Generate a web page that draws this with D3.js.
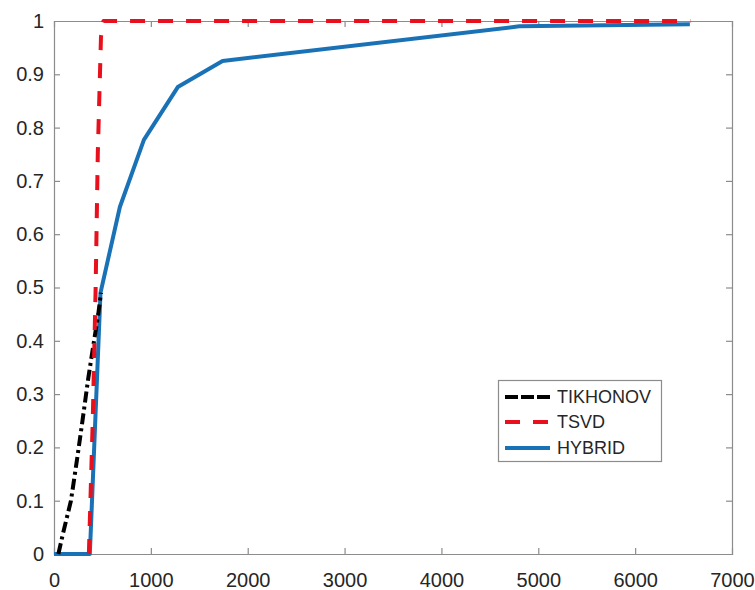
<!DOCTYPE html>
<html>
<head>
<meta charset="utf-8">
<script src="https://cdn.jsdelivr.net/npm/d3@7"></script>
<style>
  html, body { margin: 0; padding: 0; background: #fff; }
  svg { display: block; }
</style>
</head>
<body>
<svg id="chart" width="755" height="590"></svg>
<script>
// ---- data ----
const seriesNames = ["TIKHONOV", "TSVD", "HYBRID"];
const tikhonovX = [45, 95, 175, 240, 294, 354, 405, 457, 485];
const tikhonovY = [0.0, 0.04, 0.10, 0.18, 0.25, 0.33, 0.39, 0.45, 0.49];
const tsvdX = [360, 400, 430, 452, 485, 510, 6570];
const tsvdY = [0.0, 0.25, 0.50, 0.75, 0.97, 1.0, 1.0];
const hybridX = [0, 370, 480, 680, 928, 1278, 1740, 4804, 6565];
const hybridY = [0, 0, 0.49, 0.651, 0.777, 0.876, 0.925, 0.99, 0.994];
const xTicks = [0, 1000, 2000, 3000, 4000, 5000, 6000, 7000];
const yTicks = [0, 0.1, 0.2, 0.3, 0.4, 0.5, 0.6, 0.7, 0.8, 0.9, 1];

(function () {
const svg = d3.select("#chart");
const mLeft = 54, mRight = 732, mTop = 21, mBottom = 554;
const x = d3.scaleLinear().domain([0, 7000]).range([mLeft, mRight]);
const y = d3.scaleLinear().domain([0, 1]).range([mBottom, mTop]);

const axisColor = "#8c8c8c";
const textColor = "#262626";
const font = "'Liberation Sans', Arial, sans-serif";

// axes with inward ticks on all four sides
const tl = 6;
const gB = svg.append("g").attr("transform", `translate(0,${mBottom})`)
  .call(d3.axisBottom(x).tickValues(xTicks).tickSize(-tl).tickPadding(19).tickFormat(d3.format("d")));
const gT = svg.append("g").attr("transform", `translate(0,${mTop})`)
  .call(d3.axisTop(x).tickValues(xTicks).tickSize(-tl).tickFormat(""));
const gL = svg.append("g").attr("transform", `translate(${mLeft},0)`)
  .call(d3.axisLeft(y).tickValues(yTicks).tickSize(-tl).tickPadding(10).tickFormat(d => String(+d.toFixed(1))));
const gR = svg.append("g").attr("transform", `translate(${mRight},0)`)
  .call(d3.axisRight(y).tickValues(yTicks).tickSize(-tl).tickFormat(""));

[gB, gT, gL, gR].forEach(g => {
  g.select(".domain").attr("stroke", axisColor).attr("stroke-width", 1.2);
  g.selectAll(".tick line").attr("stroke", axisColor).attr("stroke-width", 1.2);
  g.selectAll(".tick text").attr("fill", textColor).style("font-family", font).style("font-size", "20px");
});
gB.selectAll(".tick").filter(d => d === 0 || d === 7000).select("line").remove();
gT.selectAll(".tick").filter(d => d === 0 || d === 7000).select("line").remove();
gL.selectAll(".tick").filter(d => d === 0 || d === 1).select("line").remove();
gR.selectAll(".tick").filter(d => d === 0 || d === 1).select("line").remove();

const line = d3.line().x(d => x(d[0])).y(d => y(d[1]));

const styles = {
  TIKHONOV: { color: "#000000", dash: "11,4,3,4", width: 4 },
  TSVD: { color: "#e8101c", dash: "15,13", width: 4 },
  HYBRID: { color: "#1a72b6", dash: null, width: 4 }
};
const data = {
  TIKHONOV: tikhonovX.map((v, i) => [v, tikhonovY[i]]),
  TSVD: tsvdX.map((v, i) => [v, tsvdY[i]]),
  HYBRID: hybridX.map((v, i) => [v, hybridY[i]])
};

["HYBRID", "TIKHONOV", "TSVD"].forEach(name => {
  const s = styles[name];
  svg.append("path")
    .datum(data[name])
    .attr("d", line)
    .attr("fill", "none")
    .attr("stroke", s.color)
    .attr("stroke-width", s.width)
    .attr("stroke-linejoin", "round")
    .attr("stroke-dasharray", s.dash);
});

// legend
const lg = svg.append("g");
lg.append("rect").attr("x", 498.5).attr("y", 380.5).attr("width", 163).attr("height", 81)
  .attr("fill", "#fff").attr("stroke", axisColor).attr("stroke-width", 1.2);
const legendY = [397, 422, 448];
seriesNames.forEach((name, i) => {
  const s = styles[name];
  lg.append("line").attr("x1", 505).attr("x2", 550).attr("y1", legendY[i]).attr("y2", legendY[i])
    .attr("stroke", s.color).attr("stroke-width", s.width)
    .attr("stroke-dasharray", name === "TIKHONOV" ? "13,3" : (name === "TSVD" ? "15,13" : null));
  lg.append("text").attr("x", 557).attr("y", legendY[i]).attr("dy", "0.35em")
    .attr("fill", textColor).style("font-family", font).style("font-size", "18px").text(name);
});
})();
</script>
</body>
</html>
